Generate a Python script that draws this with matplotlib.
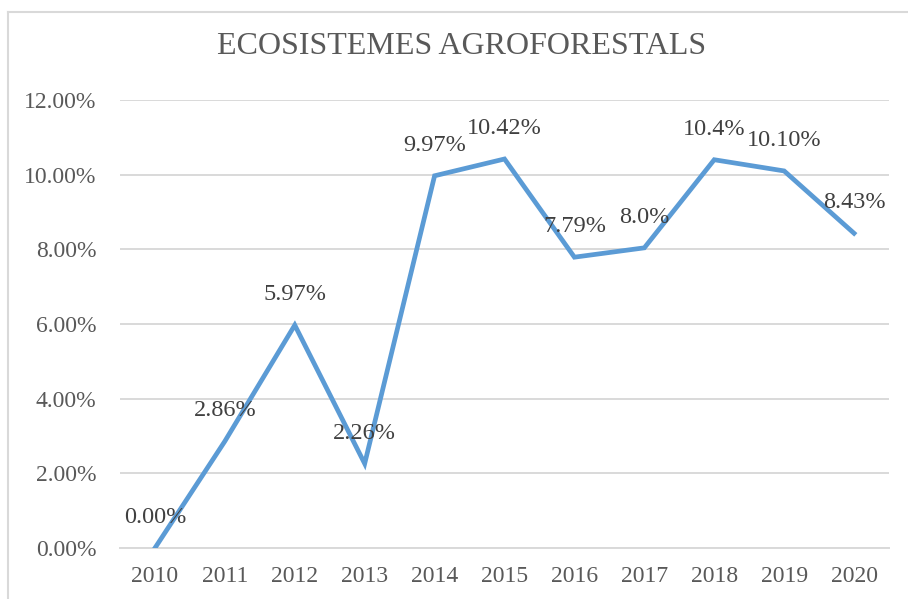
import matplotlib
matplotlib.use('Agg')
import matplotlib.pyplot as plt
from matplotlib.lines import Line2D

years = ['2010', '2011', '2012', '2013', '2014', '2015', '2016', '2017', '2018', '2019', '2020']
values = [0.00, 2.86, 5.97, 2.26, 9.97, 10.42, 7.79, 8.04, 10.40, 10.10, 8.43]
labels = ['0.00%', '2.86%', '5.97%', '2.26%', '9.97%', '10.42%', '7.79%', '8.0%', '10.4%', '10.10%', '8.43%']
yticks = [0, 2, 4, 6, 8, 10, 12]

plt.rcParams['font.family'] = ['Liberation Serif', 'DejaVu Serif']

fig = plt.figure(figsize=(9.08, 5.99), dpi=100)
ax = fig.add_axes([120 / 908, 1 - 548 / 599, 769 / 908, 448 / 599])

# chart frame (cut off at right/bottom like the screenshot)
fx, fy = 8 / 908, 1 - 12 / 599
fig.lines.append(Line2D([fx, 1.0], [fy, fy], transform=fig.transFigure,
                        color='#D9D9D9', linewidth=1.5))
fig.lines.append(Line2D([fx, fx], [0, fy], transform=fig.transFigure,
                        color='#D9D9D9', linewidth=1.5))

x = list(range(len(years)))
ax.plot(x, values, color='#5B9BD5', linewidth=3.4, solid_joinstyle='miter', zorder=3)

for xi, v, lab in zip(x, values, labels):
    ax.annotate(lab, (xi, v), xytext=(0, 22), textcoords='offset points',
                ha='center', va='center', fontsize=17.5, color='#404040', zorder=4)

ax.set_xlim(-0.5, len(years) - 0.5)
ax.set_ylim(0, 12)
ax.set_yticks(yticks)
ax.set_yticklabels(['%.2f%%' % t for t in yticks])
ax.set_xticks(x)
ax.set_xticklabels(years)
ax.tick_params(axis='both', length=0, labelsize=17, colors='#595959')
ax.tick_params(axis='y', pad=17)
ax.tick_params(axis='x', pad=13)
ax.grid(axis='y', color='#D9D9D9', linewidth=1.4)
ax.set_axisbelow(True)
for s in ['top', 'right', 'left']:
    ax.spines[s].set_visible(False)
ax.spines['bottom'].set_color('#D9D9D9')
ax.spines['bottom'].set_linewidth(1.4)

fig.text(462 / 908, 1 - 47 / 599, 'ECOSISTEMES AGROFORESTALS', ha='center', va='center',
         fontsize=23, color='#595959')

fig.savefig('out.png', dpi=100)
